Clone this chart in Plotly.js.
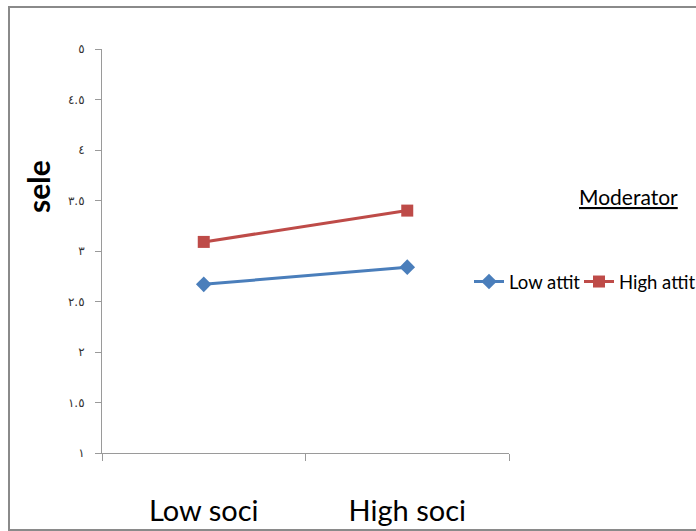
<!DOCTYPE html>
<html><head><meta charset="utf-8">
<script src="https://cdn.plot.ly/plotly-3.0.1.min.js"></script>
<style>
html,body{margin:0;padding:0;background:#fff;overflow:hidden;}
#wrap{position:relative;width:696px;height:531px;overflow:hidden;}
#chart{width:696px;height:531px;}
#frame{position:absolute;left:8px;top:6px;width:760px;height:521px;border:2px solid #8a8a8a;pointer-events:none;}
</style>
</head><body><div id="wrap"><div id="chart"></div><div id="frame"></div></div>
<script>
const categories = ["Low soci", "High soci"];
const lowAttit = [2.67, 2.84];
const highAttit = [3.09, 3.40];
const seriesNames = ["Low attit", "High attit"];
const yTickVals = [1, 1.5, 2, 2.5, 3, 3.5, 4, 4.5, 5];
const yTickText = ["١", "١.٥", "٢", "٢.٥", "٣", "٣.٥", "٤", "٤.٥", "٥"];
const yTitle = "sele";
const legendTitle = "Moderator";

const font = "Lato, 'Open Sans', sans-serif";
const legendFont = {size: 18.5, family: font, color: "#000"};
const traces = [
  {x: categories, y: lowAttit, name: seriesNames[0], type: "scatter", mode: "lines+markers", legend: "legend",
   line: {color: "#4a7ebb", width: 3}, marker: {symbol: "diamond", size: 12, color: "#4a7ebb"}},
  {x: categories, y: highAttit, name: seriesNames[1], type: "scatter", mode: "lines+markers", legend: "legend2",
   line: {color: "#be4b48", width: 3}, marker: {symbol: "square", size: 12, color: "#be4b48"}}
];
const layout = {
  width: 696, height: 531,
  margin: {l: 102, r: 187, t: 49, b: 78, autoexpand: false},
  paper_bgcolor: "#fff", plot_bgcolor: "#fff",
  font: {family: font, color: "#000"},
  showlegend: true,
  legend: {orientation: "h", x: (469 - 102) / 407, xanchor: "left", y: (453 - 282) / 404, yanchor: "middle",
           font: legendFont, itemwidth: 30, bgcolor: "rgba(0,0,0,0)"},
  legend2: {orientation: "h", x: (579 - 102) / 407, xanchor: "left", y: (453 - 282) / 404, yanchor: "middle",
           font: legendFont, itemwidth: 30, bgcolor: "rgba(0,0,0,0)"},
  xaxis: {type: "category", range: [-0.5, 1.5], showgrid: false, zeroline: false,
          showline: true, linecolor: "#9a9a9a", linewidth: 1,
          ticks: "outside", tickson: "boundaries", ticklen: 7, tickcolor: "#9a9a9a",
          tickfont: {size: 29, family: font, color: "#000"}, ticklabelstandoff: 32},
  yaxis: {range: [1, 5], showgrid: false, zeroline: false,
          showline: true, linecolor: "#9a9a9a", linewidth: 1,
          ticks: "outside", ticklen: 6, tickcolor: "#9a9a9a",
          tickvals: yTickVals, ticktext: yTickText,
          tickfont: {size: 12, family: "'DejaVu Sans', sans-serif", color: "#333"}, ticklabelstandoff: 8},
  annotations: [
    {text: "<b>" + yTitle + "</b>", xref: "paper", yref: "paper", x: (38 - 102) / 407, y: (453 - 187) / 404,
     xanchor: "center", yanchor: "middle",
     textangle: -90, showarrow: false, font: {size: 30, family: font, color: "#000"}},
    {text: "<u>" + legendTitle + "</u>", xref: "paper", yref: "paper", x: (628 - 102) / 407, y: (453 - 196) / 404,
     xanchor: "center", yanchor: "middle",
     showarrow: false, font: {size: 21, family: font, color: "#000"}}
  ]
};
Plotly.newPlot("chart", traces, layout, {displayModeBar: false, staticPlot: true});
</script></body></html>
